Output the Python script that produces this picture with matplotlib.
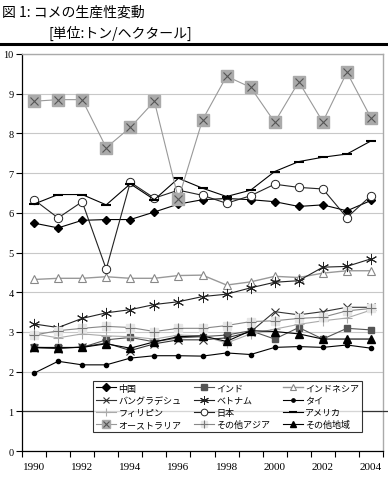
import matplotlib
matplotlib.use("Agg")
import matplotlib.pyplot as plt
from matplotlib.lines import Line2D

plt.rcParams['font.family'] = ['Noto Sans CJK JP', 'DejaVu Sans']

# Rice yield (t/ha), 1990-2004
years = list(range(1990, 2005))
china = [5.74, 5.62, 5.81, 5.83, 5.83, 6.02, 6.22, 6.33, 6.36, 6.33, 6.28, 6.16, 6.20, 6.05, 6.31]
india = [2.61, 2.61, 2.61, 2.80, 2.86, 2.75, 2.85, 2.88, 2.92, 3.03, 2.82, 3.11, 2.82, 3.09, 3.05]
indonesia = [4.32, 4.35, 4.35, 4.39, 4.35, 4.35, 4.42, 4.43, 4.18, 4.26, 4.40, 4.37, 4.48, 4.54, 4.54]
bangladesh = [2.60, 2.58, 2.62, 2.72, 2.53, 2.70, 2.80, 2.80, 2.85, 3.00, 3.51, 3.43, 3.51, 3.62, 3.62]
vietnam = [3.20, 3.11, 3.34, 3.48, 3.56, 3.69, 3.76, 3.89, 3.95, 4.11, 4.25, 4.29, 4.63, 4.65, 4.84]
thailand = [1.96, 2.26, 2.17, 2.17, 2.34, 2.40, 2.40, 2.39, 2.47, 2.43, 2.61, 2.63, 2.61, 2.67, 2.59]
philippines = [2.95, 2.85, 2.95, 2.90, 2.88, 2.82, 2.92, 2.90, 2.72, 2.95, 3.07, 3.19, 3.28, 3.35, 3.55]
japan = [6.33, 5.87, 6.28, 4.58, 6.77, 6.37, 6.57, 6.44, 6.24, 6.43, 6.72, 6.64, 6.60, 5.88, 6.43]
usa = [6.22, 6.46, 6.46, 6.20, 6.73, 6.33, 6.87, 6.62, 6.41, 6.57, 7.04, 7.29, 7.40, 7.48, 7.81]
australia = [8.81, 8.85, 8.85, 7.64, 8.15, 8.81, 6.35, 8.34, 9.44, 9.16, 8.28, 9.30, 8.29, 9.54, 8.39]
other_asia = [2.92, 3.03, 3.09, 3.14, 3.11, 3.01, 3.09, 3.09, 3.16, 3.26, 3.28, 3.34, 3.37, 3.53, 3.59]
other = [2.61, 2.60, 2.61, 2.70, 2.59, 2.75, 2.88, 2.90, 2.76, 3.03, 3.01, 2.95, 2.82, 2.82, 2.82]

x = list(range(len(years)))

fig = plt.figure(figsize=(3.88, 4.81), dpi=100)
ax = fig.add_axes([22 / 388, 1 - 452 / 481, 361 / 388, 397 / 481])

lw = 0.8
h = {}
h['中国'], = ax.plot(x, china, color='black', lw=lw, marker='D', ms=4.5, mfc='black', mec='black')
h['インド'], = ax.plot(x, india, color='#555555', lw=lw, marker='s', ms=5, mfc='#555555', mec='#555555')
h['インドネシア'], = ax.plot(x, indonesia, color='#999999', lw=1.0, marker='^', ms=6, mfc='white', mec='#888888', mew=0.8)
h['バングラデシュ'], = ax.plot(x, bangladesh, color='#333333', lw=lw, marker='x', ms=6, mec='#333333', mew=0.8)
h['ベトナム'], = ax.plot(x, vietnam, color='#222222', lw=lw, marker=(6, 2, 0), ms=8, mec='#222222', mew=0.7)
h['タイ'], = ax.plot(x, thailand, color='black', lw=lw, marker='o', ms=3, mfc='black', mec='black')
h['フィリピン'], = ax.plot(x, philippines, color='#aaaaaa', lw=lw, marker='+', ms=7, mec='#aaaaaa', mew=0.8)
h['日本'], = ax.plot(x, japan, color='#222222', lw=lw, marker='o', ms=6, mfc='white', mec='#222222', mew=0.7)
h['アメリカ'], = ax.plot(x, usa, color='black', lw=lw, marker='_', ms=7, mec='black', mew=1.5)
aus_line, = ax.plot(x, australia, color='#999999', lw=lw, marker='s', ms=8, mfc='#aaaaaa', mec='#aaaaaa')
aus_x, = ax.plot(x, australia, ls='none', marker='x', ms=6, mec='#555555', mew=0.8)
h['オーストラリア'] = (aus_line, aus_x)
oa_line, = ax.plot(x, other_asia, color='#888888', lw=lw, marker='s', ms=6, mfc='#e6e6e6', mec='#e6e6e6')
oa_plus, = ax.plot(x, other_asia, ls='none', marker='+', ms=7, mec='#777777', mew=0.8)
h['その他アジア'] = (oa_line, oa_plus)
h['その他地域'], = ax.plot(x, other, color='black', lw=lw, marker='^', ms=6, mfc='black', mec='black')

ax.set_xlim(-0.5, len(years) - 0.5)
ax.set_ylim(0, 10)
ax.set_yticks(range(0, 11))
ax.set_yticklabels([str(v) for v in range(0, 11)], fontfamily='Liberation Serif', fontsize=7.5)
ax.grid(axis='y', color='#c8c8c8', lw=0.8)
ax.set_axisbelow(True)
ax.axhline(1, color='#333333', lw=0.9, zorder=1)

ax.set_xticks([i - 0.5 for i in range(len(years) + 1)])
ax.set_xticklabels([])
ax.set_xticks(x[::2], minor=True)
ax.set_xticklabels([str(y) for y in years[::2]], minor=True, fontfamily='Liberation Serif', fontsize=8)
ax.tick_params(axis='x', which='major', length=4, width=0.8, direction='out')
ax.tick_params(axis='x', which='minor', length=0, pad=8)
ax.tick_params(axis='y', length=4, width=0.8, direction='out', pad=2)

for s in ['top', 'right']:
    ax.spines[s].set_color('#aaaaaa')
    ax.spines[s].set_linewidth(1.0)
for s in ['left', 'bottom']:
    ax.spines[s].set_color('black')
    ax.spines[s].set_linewidth(0.9)

order = ['中国', 'バングラデシュ', 'フィリピン', 'オーストラリア',
         'インド', 'ベトナム', '日本', 'その他アジア',
         'インドネシア', 'タイ', 'アメリカ', 'その他地域']
leg = ax.legend([h[k] for k in order], order, loc='lower left', ncol=3,
                bbox_to_anchor=(0.197, 0.048, 0.745, 0.138), mode='expand',
                fontsize=6.5, frameon=True, fancybox=False, borderpad=0.3,
                labelspacing=0.35, handlelength=2.2, handletextpad=0.3,
                columnspacing=0.5, borderaxespad=0, markerscale=0.8)
leg.get_frame().set_edgecolor('black')
leg.get_frame().set_linewidth(0.8)

# title and rules of the page
fig.text(2 / 388, 1 - 13 / 481, '図 1: コメの生産性変動', fontsize=10, va='center', ha='left')
fig.text(48 / 388, 1 - 33 / 481, '[単位:トン/ヘクタール]', fontsize=10, va='center', ha='left')
fig.add_artist(Line2D([0, 1], [1 - 45 / 481, 1 - 45 / 481], color='black', lw=2.2))
fig.add_artist(Line2D([383 / 388, 1], [1 - 412 / 481, 1 - 412 / 481], color='#333333', lw=0.9))

fig.savefig('out.png', dpi=100)
